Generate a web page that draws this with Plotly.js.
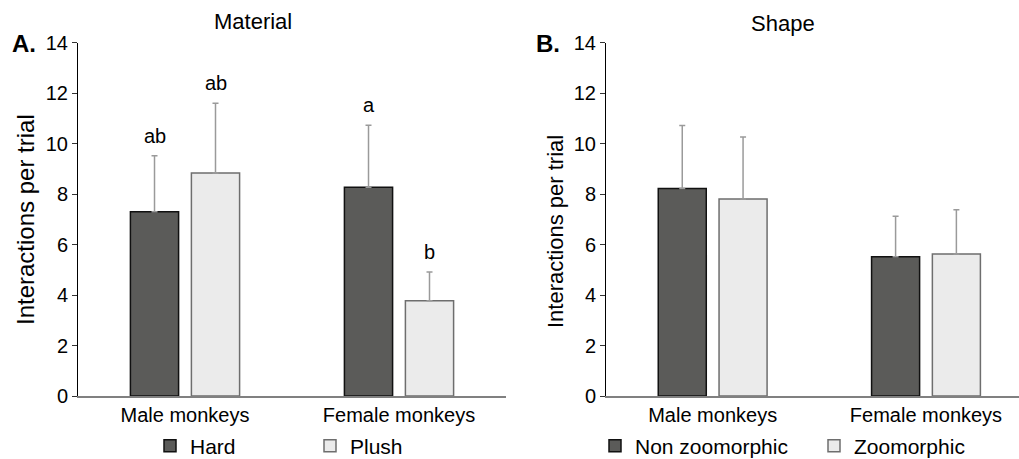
<!DOCTYPE html>
<html>
<head>
<meta charset="utf-8">
<script src="https://cdn.plot.ly/plotly-3.0.1.min.js"></script>
<style>body{margin:0;padding:0;background:#fff}</style>
</head>
<body>
<div id="chart" style="width:1019px;height:459px"></div>
<script>
// ---- data ----
var groups = ["Male monkeys", "Female monkeys"];

var materialSeries = ["Hard", "Plush"];
var hardMean = [7.3, 8.27];
var hardErr = [2.22, 2.46];
var plushMean = [8.84, 3.77];
var plushErr = [2.76, 1.14];
var hardLetters = ["ab", "a"];
var plushLetters = ["ab", "b"];

var shapeSeries = ["Non zoomorphic", "Zoomorphic"];
var nonZooMean = [8.22, 5.52];
var nonZooErr = [2.5, 1.6];
var zooMean = [7.81, 5.63];
var zooErr = [2.45, 1.75];

// ---- styles ----
var FONT = "Liberation Sans, Arial, sans-serif";
var DARK = "#5b5b59", LIGHT = "#ebebeb";
var BARGAP = 0.43, GROUPGAP = 0.21;
var W = 1019, H = 459;

function barTrace(name, y, err, color, lineColor, xa, ya, legend) {
  var zeros = y.map(function(){return 0;});
  return {
    type: "bar", name: name, x: groups, y: y,
    xaxis: xa, yaxis: ya, legend: legend,
    marker: {color: color, line: {color: lineColor, width: 1.5}},
    error_y: {type: "data", symmetric: false, array: err, arrayminus: zeros,
              color: "#9a9a9a", thickness: 1.5, width: 3},
    hoverinfo: "skip"
  };
}

var data = [
  barTrace(materialSeries[0], hardMean, hardErr, DARK, "#111", "x", "y", "legend"),
  barTrace(materialSeries[1], plushMean, plushErr, LIGHT, "#6e6e6e", "x", "y", "legend2"),
  barTrace(shapeSeries[0], nonZooMean, nonZooErr, DARK, "#111", "x2", "y2", "legend3"),
  barTrace(shapeSeries[1], zooMean, zooErr, LIGHT, "#6e6e6e", "x2", "y2", "legend4")
];

// letter annotations derived from data
var slot = (1 - BARGAP) / 2;
var annotations = [];
function addLetters(letters, mean, err, side) {
  letters.forEach(function(t, i) {
    annotations.push({
      xref: "x", yref: "y", x: i + side * slot / 2, y: mean[i] + err[i],
      text: t, showarrow: false, yanchor: "bottom", yshift: 7,
      font: {family: FONT, size: 20, color: "#000"}
    });
  });
}
addLetters(hardLetters, hardMean, hardErr, -1);
addLetters(plushLetters, plushMean, plushErr, 1);

function pText(px, py, text, size, extra) {
  var a = {xref: "paper", yref: "paper", x: px / W, y: 1 - py / H, text: text, showarrow: false,
           xanchor: "center", yanchor: "middle", font: {family: FONT, size: size, color: "#000"}};
  for (var k in (extra || {})) a[k] = extra[k];
  return a;
}
annotations.push(
  pText(253, 22, "Material", 22),
  pText(783, 23, "Shape", 22),
  pText(10, 43, "<b>A.</b>", 24, {xanchor: "left"}),
  pText(534, 44, "<b>B.</b>", 24, {xanchor: "left"}),
  pText(25, 220, "Interactions per trial", 24, {textangle: -90}),
  pText(555, 232, "Interactions per trial", 22, {textangle: -90})
);

var yDomain = [(H - 396) / H, 1 - 42.7 / H];
function yAxis(anchor) {
  return {
    domain: yDomain, anchor: anchor, range: [0, 14], dtick: 2, tick0: 0,
    showgrid: false, zeroline: false, showline: true, linecolor: "#000", linewidth: 1,
    ticks: "outside", ticklen: 5, tickcolor: "#333", tickwidth: 1,
    tickfont: {family: FONT, size: 20, color: "#000"}, fixedrange: true
  };
}
function xAxis(domain, range, anchor) {
  return {
    domain: domain, anchor: anchor, type: "category", range: range,
    showgrid: false, zeroline: false, showline: true, linecolor: "#808080", linewidth: 2,
    ticks: "", tickfont: {family: FONT, size: 20, color: "#000"}, fixedrange: true
  };
}
function leg(px) {
  return {orientation: "h", x: px / W, y: 1 - 446 / H, xanchor: "left", yanchor: "middle",
          font: {family: FONT, size: 21, color: "#000"}, itemwidth: 30,
          bgcolor: "rgba(0,0,0,0)", borderwidth: 0};
}

var layout = {
  width: W, height: H,
  margin: {l: 0, r: 0, t: 0, b: 0, autoexpand: false},
  paper_bgcolor: "#fff", plot_bgcolor: "rgba(0,0,0,0)",
  barmode: "group", bargap: BARGAP, bargroupgap: GROUPGAP,
  xaxis: xAxis([78 / W, 506 / W], [-0.5, 1.5], "y"),
  yaxis: yAxis("x"),
  xaxis2: xAxis([606 / W, 1], [-0.5, 1.436], "y2"),
  yaxis2: yAxis("x2"),
  legend: leg(150), legend2: leg(310), legend3: leg(595), legend4: leg(814),
  annotations: annotations,
  showlegend: true
};

Plotly.newPlot("chart", data, layout, {displayModeBar: false, staticPlot: true});
</script>
</body>
</html>
